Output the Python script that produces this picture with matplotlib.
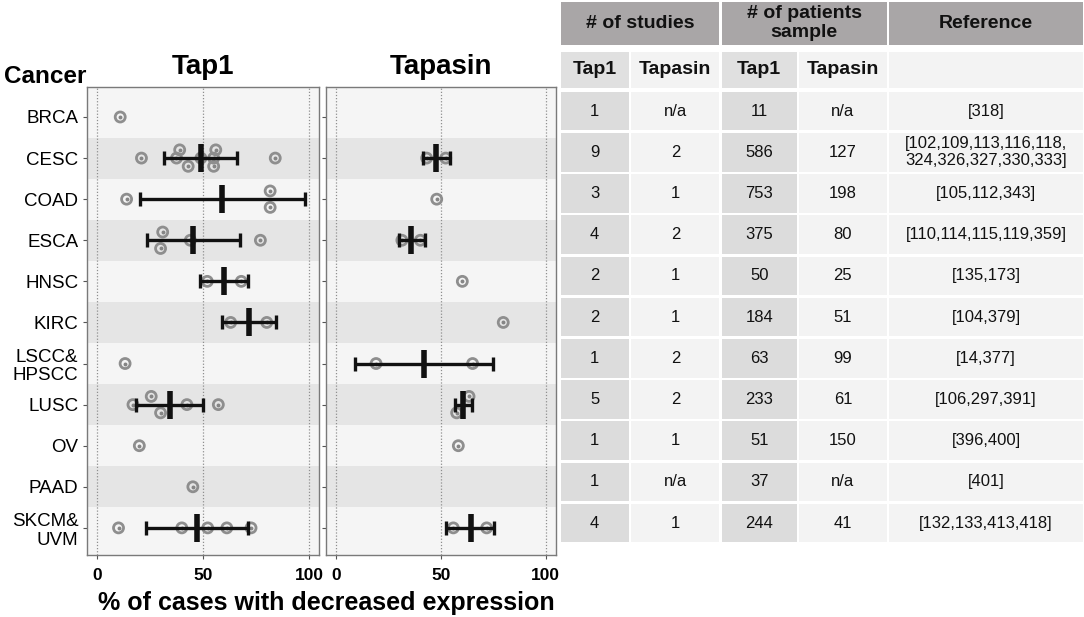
import matplotlib
matplotlib.use('Agg')
import matplotlib.pyplot as plt
from matplotlib.patches import Rectangle
import numpy as np

plt.rcParams['font.family'] = ['Liberation Sans', 'DejaVu Sans']

nan = np.nan

cancers = ['BRCA', 'CESC', 'COAD', 'ESCA', 'HNSC', 'KIRC', 'LSCC&\nHPSCC',
           'LUSC', 'OV', 'PAAD', 'SKCM&\nUVM']

# individual studies (% of cases with decreased expression) and their vertical offset
tap1_vals = [
    [11],
    [21, 39, 37.5, 43, 56, 55, 55, 49, 84],
    [14, 81.6, 81.6],
    [31, 30, 44, 77],
    [52, 68],
    [63, 80],
    [13.3],
    [25.6, 17, 42.4, 30, 57.2],
    [20],
    [45.2],
    [10.2, 40, 52.2, 61.2, 72.6],
]
tap1_jit = [
    [0],
    [0, 0.2, 0, -0.2, 0.2, 0, -0.2, 0, 0],
    [0, 0.2, -0.2],
    [0.2, -0.2, 0, 0],
    [0, 0],
    [0, 0],
    [0],
    [0.2, 0, 0, -0.2, 0],
    [0],
    [0],
    [0, 0, 0, 0, 0],
]
tap1_mean = [nan, 48.9, 59.1, 45.5, 59.9, 71.7, nan, 34.5, nan, nan, 47.3]
tap1_lo = [nan, 31.7, 20.1, 23.5, 48.6, 59.1, nan, 18.5, nan, nan, 23.2]
tap1_hi = [nan, 66.2, 98.0, 67.4, 71.3, 84.2, nan, 50.2, nan, nan, 71.3]

tapasin_vals = [
    [],
    [43.3, 52.4],
    [48.1],
    [31.5, 40.3],
    [60.3],
    [79.8],
    [19.2, 65.2],
    [63.5, 57.6],
    [58.4],
    [],
    [56.0, 71.9],
]
tapasin_jit = [[], [0, 0], [0], [0, 0], [0], [0], [0, 0], [0.2, -0.2], [0], [], [0, 0]]
tapasin_mean = [nan, 47.6, nan, 35.9, nan, nan, 42.2, 60.5, nan, nan, 64.3]
tapasin_lo = [nan, 41.7, nan, 30.1, nan, nan, 9.2, 56.8, nan, nan, 52.5]
tapasin_hi = [nan, 54.4, nan, 42.5, nan, nan, 74.8, 64.8, nan, nan, 75.4]

# table
studies_tap1 = ['1', '9', '3', '4', '2', '2', '1', '5', '1', '1', '4']
studies_tapasin = ['n/a', '2', '1', '2', '1', '1', '2', '2', '1', 'n/a', '1']
patients_tap1 = ['11', '586', '753', '375', '50', '184', '63', '233', '51', '37', '244']
patients_tapasin = ['n/a', '127', '198', '80', '25', '51', '99', '61', '150', 'n/a', '41']
references = ['[318]', '[102,109,113,116,118,\n324,326,327,330,333]', '[105,112,343]',
              '[110,114,115,119,359]', '[135,173]', '[104,379]', '[14,377]',
              '[106,297,391]', '[396,400]', '[401]', '[132,133,413,418]']

W, H = 1084, 617
fig = plt.figure(figsize=(W / 100, H / 100), dpi=100)


def px_axes(x0, x1, y0, y1):
    return fig.add_axes([x0 / W, 1 - y1 / H, (x1 - x0) / W, (y1 - y0) / H])


def draw_panel(ax, vals, jit, mean, lo, hi, title, xlim):
    n = len(cancers)
    for i in range(n):
        col = '#f5f5f5' if i % 2 == 0 else '#e5e5e5'
        ax.axhspan(i - 0.5, i + 0.5, color=col, lw=0, zorder=0)
    ax.set_facecolor('#f5f5f5')
    for gx in [0, 50, 100]:
        ax.axvline(gx, color='#8f8f8f', lw=0.9, ls=(0, (1, 1.5)), zorder=1)
    for i in range(n):
        if len(vals[i]):
            ys = [i - j for j in jit[i]]
            ax.scatter(vals[i], ys, s=52, facecolors='none', edgecolors='#8e8e8e',
                       linewidths=2.0, zorder=2)
            ax.scatter(vals[i], ys, s=8, color='#858585', lw=0, zorder=2)
        if not np.isnan(mean[i]):
            ax.errorbar([mean[i]], [i], xerr=[[mean[i] - lo[i]], [hi[i] - mean[i]]],
                        fmt='none', ecolor='#111111', elinewidth=2.4, capsize=5.2,
                        capthick=2.4, zorder=3)
            ax.plot([mean[i]], [i], marker='|', ms=20, mew=4.0, color='#111111', zorder=4)
    ax.set_ylim(10.66, -0.73)
    ax.set_xlim(*xlim)
    ax.set_yticks(range(n))
    ax.set_xticks([0, 50, 100])
    ax.set_xticklabels(['0', '50', '100'], fontsize=12.5, fontweight='bold')
    ax.tick_params(axis='both', length=3, color='#555555', width=0.8)
    ax.tick_params(axis='x', pad=6)
    for s in ax.spines.values():
        s.set_color('#7a7a7a')
        s.set_linewidth(1.0)
    ax.set_title(title, fontsize=20, fontweight='bold', pad=9)


ax1 = px_axes(87.3, 319, 87, 555)
draw_panel(ax1, tap1_vals, tap1_jit, tap1_mean, tap1_lo, tap1_hi, 'Tap1', (-4.5, 104.6))
ax1.set_yticklabels(cancers, fontsize=13.5, linespacing=1.15)

ax2 = px_axes(325.7, 555.5, 87, 555)
draw_panel(ax2, tapasin_vals, tapasin_jit, tapasin_mean, tapasin_lo, tapasin_hi,
           'Tapasin', (-4.8, 104.7))
ax2.set_yticklabels([])

fig.text(4 / W, 1 - 83 / H, 'Cancer', fontsize=17.5, fontweight='bold', ha='left', va='baseline')
fig.text(326 / W, 1 - 603 / H, '% of cases with decreased expression', fontsize=18,
         fontweight='bold', ha='center', va='center')

# table drawn in pixel coordinates
tab = fig.add_axes([0, 0, 1, 1])
tab.set_xlim(0, W)
tab.set_ylim(H, 0)
tab.set_axis_off()

gap = 2.6
col_edges = [560.7, 631.3, 722.0, 799.2, 889.2, 1083.0]
row_edges = np.linspace(91.7, 545.0, len(cancers) + 1)
dark, light, head = '#dcdcdc', '#f3f3f3', '#a9a6a7'


def cell(x0, x1, y0, y1, color, text='', **kw):
    tab.add_patch(Rectangle((x0, y0), x1 - x0, y1 - y0, color=color, lw=0))
    if text:
        tab.text((x0 + x1) / 2, (y0 + y1) / 2, text, ha='center', va='center',
                 color='#111111', **kw)


hdr = dict(fontsize=14, fontweight='bold', linespacing=1.15)
cell(col_edges[0], col_edges[2] - gap, 1.7, 45, head, '# of studies', **hdr)
cell(col_edges[2], col_edges[4] - gap, 1.7, 45, head, '# of patients\nsample', **hdr)
cell(col_edges[4], col_edges[5], 1.7, 45, head, 'Reference', **hdr)

sub_labels = ['Tap1', 'Tapasin', 'Tap1', 'Tapasin', '']
sub_colors = ['#e0e0e0', light, '#e0e0e0', light, light]
for c in range(5):
    x1 = col_edges[c + 1] - (gap if c < 4 else 0)
    cell(col_edges[c], x1, 51.7, 88.3, sub_colors[c], sub_labels[c], fontsize=14,
         fontweight='bold')

columns = [studies_tap1, studies_tapasin, patients_tap1, patients_tapasin, references]
col_colors = [dark, light, dark, light, light]
for r in range(len(cancers)):
    y0 = row_edges[r]
    y1 = row_edges[r + 1] - gap
    for c in range(5):
        x1 = col_edges[c + 1] - (gap if c < 4 else 0)
        cell(col_edges[c], x1, y0, y1, col_colors[c], columns[c][r], fontsize=12,
             linespacing=1.15)

fig.savefig('out.png', dpi=100)
